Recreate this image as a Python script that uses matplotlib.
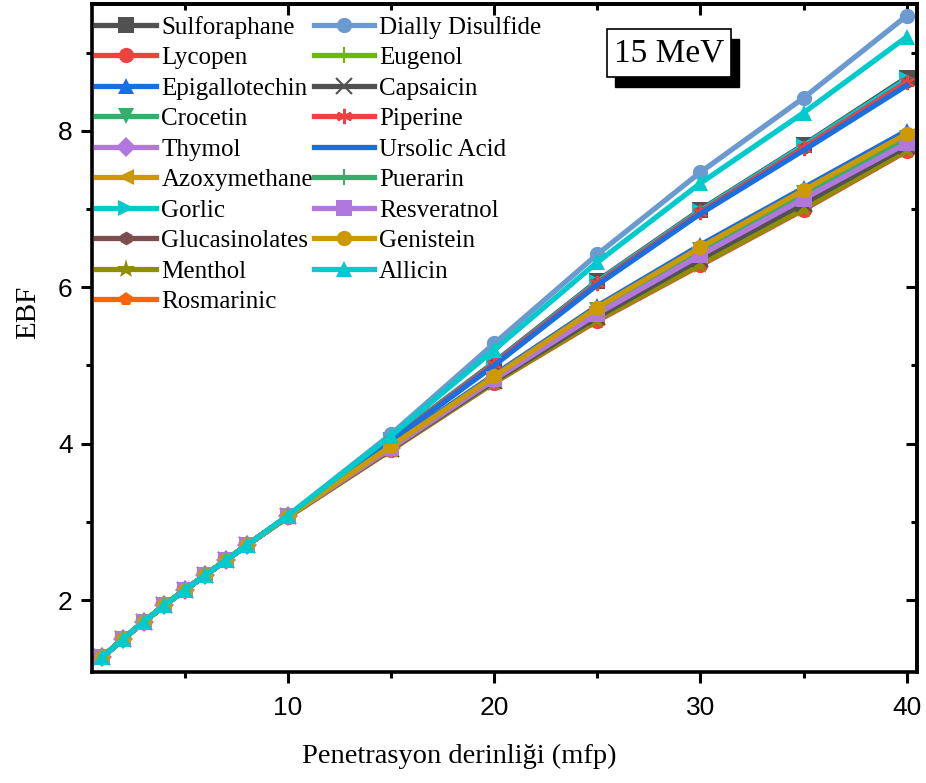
import matplotlib
matplotlib.use("Agg")
import matplotlib.pyplot as plt
from matplotlib.ticker import MultipleLocator, FixedLocator
from matplotlib.patches import Rectangle

# penetration depth (mfp)
depth = [1, 2, 3, 4, 5, 6, 7, 8, 10, 15, 20, 25, 30, 35, 40]

# EBF values
sulforaphane   = [1.27, 1.50, 1.72, 1.93, 2.13, 2.32, 2.51, 2.70, 3.07, 4.05, 5.04, 6.08, 6.99, 7.82, 8.68]
lycopen        = [1.27, 1.50, 1.72, 1.93, 2.13, 2.32, 2.51, 2.70, 3.06, 3.92, 4.78, 5.57, 6.28, 6.99, 7.74]
epigallotechin = [1.27, 1.50, 1.72, 1.93, 2.13, 2.32, 2.51, 2.70, 3.07, 3.98, 4.88, 5.76, 6.54, 7.27, 8.00]
crocetin       = [1.27, 1.50, 1.72, 1.93, 2.13, 2.32, 2.51, 2.70, 3.07, 3.96, 4.84, 5.71, 6.47, 7.20, 7.91]
thymol         = [1.27, 1.50, 1.72, 1.93, 2.13, 2.32, 2.51, 2.70, 3.07, 3.95, 4.82, 5.67, 6.42, 7.14, 7.85]
azoxymethane   = [1.27, 1.50, 1.72, 1.93, 2.13, 2.32, 2.51, 2.70, 3.07, 3.96, 4.85, 5.72, 6.49, 7.22, 7.93]
gorlic         = [1.27, 1.50, 1.72, 1.93, 2.13, 2.32, 2.51, 2.70, 3.07, 4.05, 5.03, 6.07, 6.98, 7.81, 8.66]
glucasinolates = [1.27, 1.50, 1.72, 1.93, 2.13, 2.32, 2.51, 2.70, 3.07, 4.04, 5.02, 6.05, 6.96, 7.78, 8.62]
menthol        = [1.27, 1.50, 1.72, 1.93, 2.13, 2.32, 2.51, 2.70, 3.06, 3.92, 4.78, 5.58, 6.29, 7.00, 7.75]
rosmarinic     = [1.27, 1.50, 1.72, 1.93, 2.13, 2.32, 2.51, 2.70, 3.07, 3.94, 4.81, 5.65, 6.39, 7.11, 7.82]
dially_disulf  = [1.27, 1.50, 1.72, 1.93, 2.13, 2.32, 2.51, 2.70, 3.08, 4.12, 5.28, 6.42, 7.47, 8.42, 9.47]
eugenol        = [1.27, 1.50, 1.72, 1.93, 2.13, 2.32, 2.51, 2.70, 3.07, 3.95, 4.83, 5.69, 6.45, 7.17, 7.88]
capsaicin      = [1.27, 1.50, 1.72, 1.93, 2.13, 2.32, 2.51, 2.70, 3.07, 3.93, 4.80, 5.62, 6.36, 7.07, 7.80]
piperine       = [1.27, 1.50, 1.72, 1.93, 2.13, 2.32, 2.51, 2.70, 3.07, 4.04, 5.02, 6.05, 6.96, 7.78, 8.62]
ursolic_acid   = [1.27, 1.50, 1.72, 1.93, 2.13, 2.32, 2.51, 2.70, 3.07, 4.03, 5.00, 6.03, 6.94, 7.75, 8.58]
puerarin       = [1.27, 1.50, 1.72, 1.93, 2.13, 2.32, 2.51, 2.70, 3.07, 3.96, 4.84, 5.70, 6.46, 7.19, 7.90]
resveratnol    = [1.27, 1.50, 1.72, 1.93, 2.13, 2.32, 2.51, 2.70, 3.07, 3.94, 4.82, 5.66, 6.41, 7.13, 7.84]
genistein      = [1.27, 1.50, 1.72, 1.93, 2.13, 2.32, 2.51, 2.70, 3.07, 3.97, 4.86, 5.74, 6.51, 7.24, 7.96]
allicin        = [1.27, 1.50, 1.72, 1.93, 2.13, 2.32, 2.51, 2.70, 3.08, 4.10, 5.20, 6.32, 7.33, 8.23, 9.20]

x_major = [10, 20, 30, 40]
y_major = [2, 4, 6, 8]

# name, values, colour, marker
series = [
    ("Sulforaphane", sulforaphane, "#515151", "s"),
    ("Lycopen", lycopen, "#F14040", "o"),
    ("Epigallotechin", epigallotechin, "#1A6FDF", "^"),
    ("Crocetin", crocetin, "#37AD6B", "v"),
    ("Thymol", thymol, "#B177DE", "D"),
    ("Azoxymethane", azoxymethane, "#CC9900", "<"),
    ("Gorlic", gorlic, "#00CBCC", ">"),
    ("Glucasinolates", glucasinolates, "#7D4E4E", "h"),
    ("Menthol", menthol, "#8E8E00", "*"),
    ("Rosmarinic", rosmarinic, "#FB6501", "p"),
    ("Dially Disulfide", dially_disulf, "#6A9AD0", "o"),
    ("Eugenol", eugenol, "#6FB802", "|"),
    ("Capsaicin", capsaicin, "#515151", "x"),
    ("Piperine", piperine, "#F14040", (6, 2, 0)),
    ("Ursolic Acid", ursolic_acid, "#1A6FDF", None),
    ("Puerarin", puerarin, "#37AD6B", "|"),
    ("Resveratnol", resveratnol, "#B177DE", "s"),
    ("Genistein", genistein, "#CC9900", "o"),
    ("Allicin", allicin, "#00CBCC", "^"),
]

fig = plt.figure(figsize=(9.26, 7.83), dpi=100)
ax = fig.add_axes([0.0994, 0.1418, 0.8909, 0.853])

for name, vals, col, mk in series:
    thin = mk in ("|", "x", (6, 2, 0))
    ms = 11
    if mk == "*":
        ms = 14
    if mk in ("D", "p", "h"):
        ms = 10
    ax.plot(depth, vals, color=col, lw=3.8, marker=mk, markersize=ms,
            markeredgewidth=1.5 if thin else 0, label=name)

ax.set_xlim(0.5, 40.5)
ax.set_ylim(1.08, 9.62)
ax.xaxis.set_major_locator(FixedLocator(x_major))
ax.xaxis.set_minor_locator(MultipleLocator(5))
ax.yaxis.set_major_locator(FixedLocator(y_major))
ax.yaxis.set_minor_locator(MultipleLocator(1))

for s in ax.spines.values():
    s.set_linewidth(2.6)

ax.tick_params(which="major", direction="out", length=8, width=2.2, labelsize=19, pad=6)
ax.tick_params(which="minor", direction="out", length=4.5, width=2.2)
ax.tick_params(axis="x", pad=9)
for lab in ax.get_xticklabels() + ax.get_yticklabels():
    lab.set_family("Liberation Sans")

# mirrored axes with ticks pointing inward
top = ax.secondary_xaxis("top")
top.xaxis.set_major_locator(FixedLocator(x_major))
top.xaxis.set_minor_locator(MultipleLocator(5))
top.tick_params(which="major", direction="in", length=8, width=2.2, labeltop=False)
top.tick_params(which="minor", direction="in", length=4.5, width=2.2)
top.spines["top"].set_linewidth(2.6)
right = ax.secondary_yaxis("right")
right.yaxis.set_major_locator(FixedLocator(y_major))
right.yaxis.set_minor_locator(MultipleLocator(1))
right.tick_params(which="major", direction="in", length=8, width=2.2, labelright=False)
right.tick_params(which="minor", direction="in", length=4.5, width=2.2)
right.spines["right"].set_linewidth(2.6)

ax.set_xlabel("Penetrasyon derinliği (mfp)", family="Liberation Serif", fontsize=20.5)
ax.set_ylabel("EBF", family="Liberation Serif", fontsize=21)
ax.xaxis.set_label_coords(0.445, -0.108)
ax.yaxis.set_label_coords(-0.062, 0.538)

ax.legend(loc="upper left", bbox_to_anchor=(0.104, 0.98), bbox_transform=fig.transFigure,
          ncol=2, frameon=False, prop={"family": "Liberation Serif", "size": 18},
          handlelength=2.4, handletextpad=0.2, columnspacing=0.05, labelspacing=0.32,
          borderpad=0, borderaxespad=0)

# "15 MeV" box with drop shadow
fig.patches.append(Rectangle((0.6641, 0.8889), 0.1339, 0.0613, transform=fig.transFigure,
                             facecolor="black", edgecolor="black", zorder=5))
fig.patches.append(Rectangle((0.6555, 0.9017), 0.1339, 0.0613, transform=fig.transFigure,
                             facecolor="white", edgecolor="black", lw=1.2, zorder=6))
fig.text(0.7225, 0.9323, "15 MeV", family="Liberation Serif", fontsize=24,
         ha="center", va="center", zorder=7)

fig.savefig("out.png", dpi=100)
